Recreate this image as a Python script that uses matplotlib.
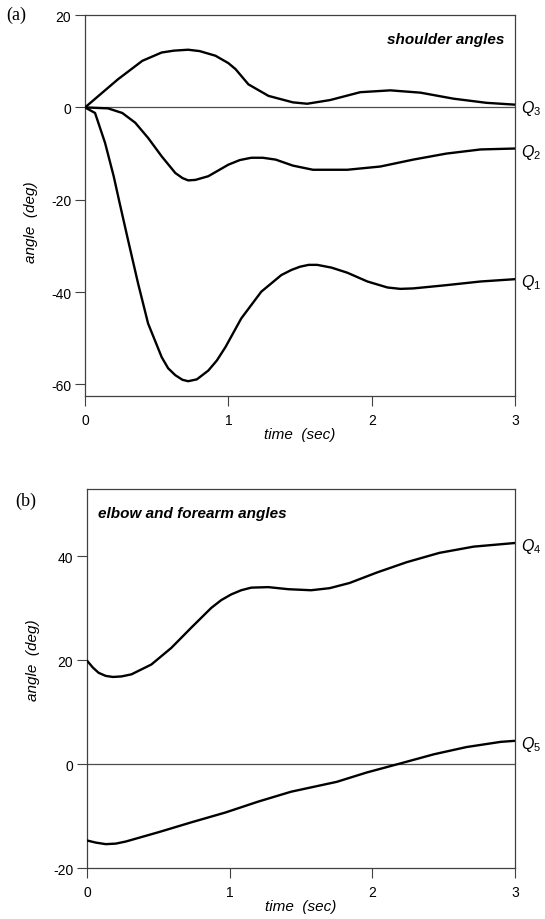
import numpy as np
import matplotlib
matplotlib.use("Agg")
import matplotlib.pyplot as plt

plt.rcParams['font.family'] = ['Liberation Sans', 'DejaVu Sans']
plt.rcParams['mathtext.fontset'] = 'custom'
plt.rcParams['mathtext.it'] = 'Liberation Sans:italic'
plt.rcParams['mathtext.rm'] = 'Liberation Sans'
plt.rcParams['axes.unicode_minus'] = False

# (a) shoulder angles
t_q3 = [0.0, 0.23, 0.40, 0.535, 0.62, 0.72, 0.80, 0.91, 1.0, 1.05, 1.14, 1.28, 1.45, 1.55, 1.71, 1.92, 2.13, 2.34, 2.57, 2.80, 3.0]
q3 = [0.0, 6.1, 10.1, 11.9, 12.3, 12.5, 12.2, 11.2, 9.6, 8.3, 5.0, 2.5, 1.1, 0.8, 1.6, 3.3, 3.7, 3.2, 1.9, 1.0, 0.6]

t_q2 = [0.0, 0.16, 0.26, 0.35, 0.44, 0.535, 0.63, 0.68, 0.72, 0.77, 0.86, 1.0, 1.08, 1.16, 1.24, 1.33, 1.45, 1.59, 1.83, 2.06, 2.29, 2.52, 2.76, 3.0]
q2 = [0.0, -0.2, -1.2, -3.3, -6.6, -10.6, -14.2, -15.3, -15.8, -15.7, -14.9, -12.4, -11.4, -10.9, -10.9, -11.3, -12.6, -13.5, -13.5, -12.8, -11.3, -10.0, -9.1, -8.9]

t_q1 = [0.0, 0.07, 0.14, 0.20, 0.24, 0.30, 0.37, 0.44, 0.535, 0.58, 0.63, 0.68, 0.72, 0.78, 0.86, 0.92, 0.98, 1.09, 1.23, 1.37, 1.44, 1.50, 1.56, 1.62, 1.72, 1.83, 1.97, 2.11, 2.20, 2.29, 2.52, 2.76, 3.0]
q1 = [0.0, -1.2, -7.7, -14.9, -20.5, -28.7, -38.1, -46.8, -54.1, -56.5, -58.0, -59.0, -59.3, -58.9, -57.0, -54.8, -51.9, -45.7, -39.9, -36.3, -35.2, -34.5, -34.1, -34.1, -34.7, -35.8, -37.7, -39.0, -39.3, -39.2, -38.5, -37.7, -37.2]

# (b) elbow and forearm angles
t_q4 = [0.0, 0.04, 0.08, 0.13, 0.18, 0.24, 0.31, 0.45, 0.59, 0.73, 0.87, 0.94, 1.01, 1.08, 1.15, 1.27, 1.41, 1.57, 1.70, 1.84, 2.03, 2.24, 2.47, 2.71, 3.0]
q4 = [19.9, 18.6, 17.6, 17.0, 16.8, 16.9, 17.3, 19.2, 22.4, 26.3, 30.1, 31.6, 32.7, 33.5, 34.0, 34.1, 33.7, 33.5, 33.9, 34.9, 36.9, 38.9, 40.7, 41.9, 42.6]

t_q5 = [0.0, 0.06, 0.13, 0.20, 0.27, 0.50, 0.73, 0.97, 1.20, 1.43, 1.75, 1.96, 2.19, 2.43, 2.66, 2.90, 3.0]
q5 = [-14.7, -15.1, -15.4, -15.3, -14.9, -13.1, -11.2, -9.3, -7.2, -5.3, -3.4, -1.6, 0.1, 1.9, 3.3, 4.3, 4.5]

xticks = [0, 1, 2, 3]
yticks_a = [-60, -40, -20, 0, 20]
yticks_b = [-20, 0, 20, 40]

fig = plt.figure(figsize=(5.45, 9.2), dpi=100)
ax1 = fig.add_axes([0.156, 0.5685, 0.789, 0.414])
ax2 = fig.add_axes([0.160, 0.0554, 0.785, 0.412])


def style(ax, yticks, ylim):
    ax.set_xlim(0, 3)
    ax.set_ylim(*ylim)
    ax.set_xticks(xticks)
    ax.set_yticks(yticks)
    ax.tick_params(direction='out', length=7, width=0.8, color='0.25',
                   labelsize=10, pad=3)
    ax.tick_params(axis='x', pad=5)
    for s in ax.spines.values():
        s.set_linewidth(0.9)
        s.set_color('0.25')
    ax.axhline(0, color='0.3', lw=0.9, zorder=1)
    ax.set_xlabel('time  (sec)', fontstyle='italic', fontsize=11, labelpad=0)
    ax.set_ylabel('angle  (deg)', fontstyle='italic', fontsize=11)


def q_label(ax, t, q, n):
    ax.annotate(r'$\mathit{Q}_{\mathit{%d}}$' % n, xy=(t[-1], q[-1]),
                xytext=(4, -2), textcoords='offset points',
                ha='left', va='center', fontsize=11.5, annotation_clip=False)


style(ax1, yticks_a, (-62.5, 20))
for t, q, n in [(t_q1, q1, 1), (t_q2, q2, 2), (t_q3, q3, 3)]:
    ax1.plot(t, q, color='black', lw=1.7, zorder=3,
             solid_joinstyle='round', solid_capstyle='round')
    q_label(ax1, t, q, n)
ax1.text(0.975, 0.955, 'shoulder angles', transform=ax1.transAxes,
         ha='right', va='top', fontsize=11, fontweight='bold', fontstyle='italic')
ax1.yaxis.set_label_coords(-0.11, 0.46)

style(ax2, yticks_b, (-20, 53))
for t, q, n in [(t_q4, q4, 4), (t_q5, q5, 5)]:
    ax2.plot(t, q, color='black', lw=1.7, zorder=3,
             solid_joinstyle='round', solid_capstyle='round')
    q_label(ax2, t, q, n)
ax2.text(0.025, 0.955, 'elbow and forearm angles', transform=ax2.transAxes,
         ha='left', va='top', fontsize=11, fontweight='bold', fontstyle='italic')
ax2.yaxis.set_label_coords(-0.11, 0.55)

fig.text(0.012, 0.983, '(a)', family='Liberation Serif', fontsize=13, va='center')
fig.text(0.028, 0.455, '(b)', family='Liberation Serif', fontsize=13, va='center')

fig.savefig('out.png', dpi=100)
